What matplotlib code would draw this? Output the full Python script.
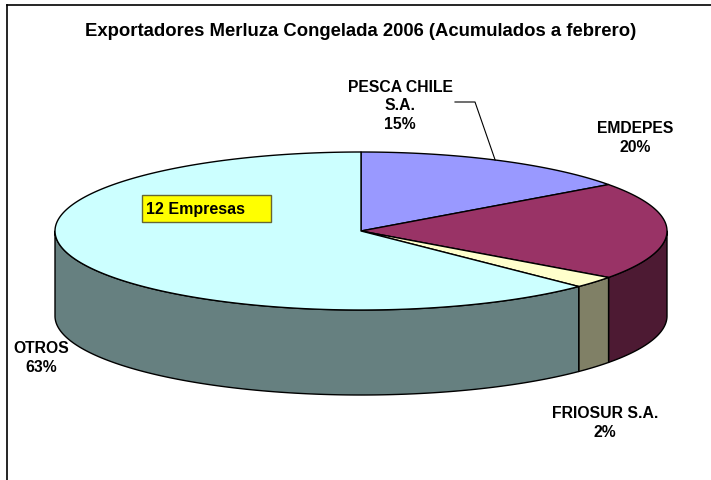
import numpy as np
import matplotlib.pyplot as plt
from matplotlib.patches import Polygon, Rectangle

plt.rcParams['font.family'] = ['Liberation Sans', 'DejaVu Sans']

# Data (share of exports, %)
labels = ["PESCA CHILE\nS.A.", "EMDEPES", "FRIOSUR S.A.", "OTROS"]
values = [15.0, 20.0, 2.4, 62.6]
top_colors = ['#9999ff', '#993366', '#ffffcc', '#ccffff']
side_colors = ['#4d4d80', '#4d1a33', '#808066', '#668080']

# label positions (pixel space)
label_pos = [(400, 106), (635, 138), (605, 423), (41, 358)]

CX, CY = 361, 232
RX, RY = 306, 79
DEPTH = 85


def ellipse_pt(t, dy=0.0):
    # t in degrees, clockwise from 12 o'clock
    r = np.radians(t)
    return CX + RX * np.sin(r), CY - RY * np.cos(r) + dy


def arc(t0, t1, dy=0.0, n=None):
    if n is None:
        n = max(int(abs(t1 - t0)) * 2, 2)
    ts = np.linspace(t0, t1, n)
    xs, ys = ellipse_pt(ts, dy)
    return np.column_stack([xs, ys])


fig = plt.figure(figsize=(7.11, 4.81), dpi=100)
ax = fig.add_axes([0, 0, 1, 1])
ax.set_xlim(0, 711)
ax.set_ylim(481, 0)
ax.axis('off')

total = sum(values)
bounds = np.concatenate([[0], np.cumsum(values) / total * 360])

# side walls (front half: 90..270 deg)
for i in range(len(values)):
    t0, t1 = bounds[i], bounds[i + 1]
    s0, s1 = max(t0, 90), min(t1, 270)
    if s1 <= s0:
        continue
    top = arc(s0, s1)
    bot = arc(s1, s0, DEPTH)
    poly = Polygon(np.vstack([top, bot]), closed=True, facecolor=side_colors[i],
                   edgecolor='black', linewidth=1.0, joinstyle='round')
    ax.add_patch(poly)

# top faces
for i in range(len(values)):
    t0, t1 = bounds[i], bounds[i + 1]
    pts = np.vstack([[CX, CY], arc(t0, t1)])
    poly = Polygon(pts, closed=True, facecolor=top_colors[i],
                   edgecolor='black', linewidth=1.0, joinstyle='round')
    ax.add_patch(poly)

# labels
for lab, val, (lx, ly) in zip(labels, values, label_pos):
    ax.text(lx, ly, "{}\n{:.0f}%".format(lab, val), ha='center', va='center',
            fontsize=11.3, fontweight='bold', linespacing=1.3)

# leader line for PESCA CHILE
mid = (bounds[0] + bounds[1]) / 2
ex, ey = ellipse_pt(mid - 1)
ax.plot([455, 475, ex], [103, 103, ey], color='black', linewidth=0.8)

ax.text(361, 32, "Exportadores Merluza Congelada 2006 (Acumulados a febrero)",
        ha='center', va='center', fontsize=13.3, fontweight='bold')

# "12 Empresas" note box
ax.add_patch(Rectangle((142, 196), 129, 27, facecolor='#ffff00',
                       edgecolor='#666633', linewidth=1.0))
ax.text(146, 210, "12 Empresas", ha='left', va='center', fontsize=11.5,
        fontweight='bold')

# chart frame (partially cropped)
ax.plot([7, 711], [6, 6], color='black', linewidth=1.2)
ax.plot([7, 7], [6, 481], color='black', linewidth=1.2)

fig.savefig('out.png', dpi=100)
